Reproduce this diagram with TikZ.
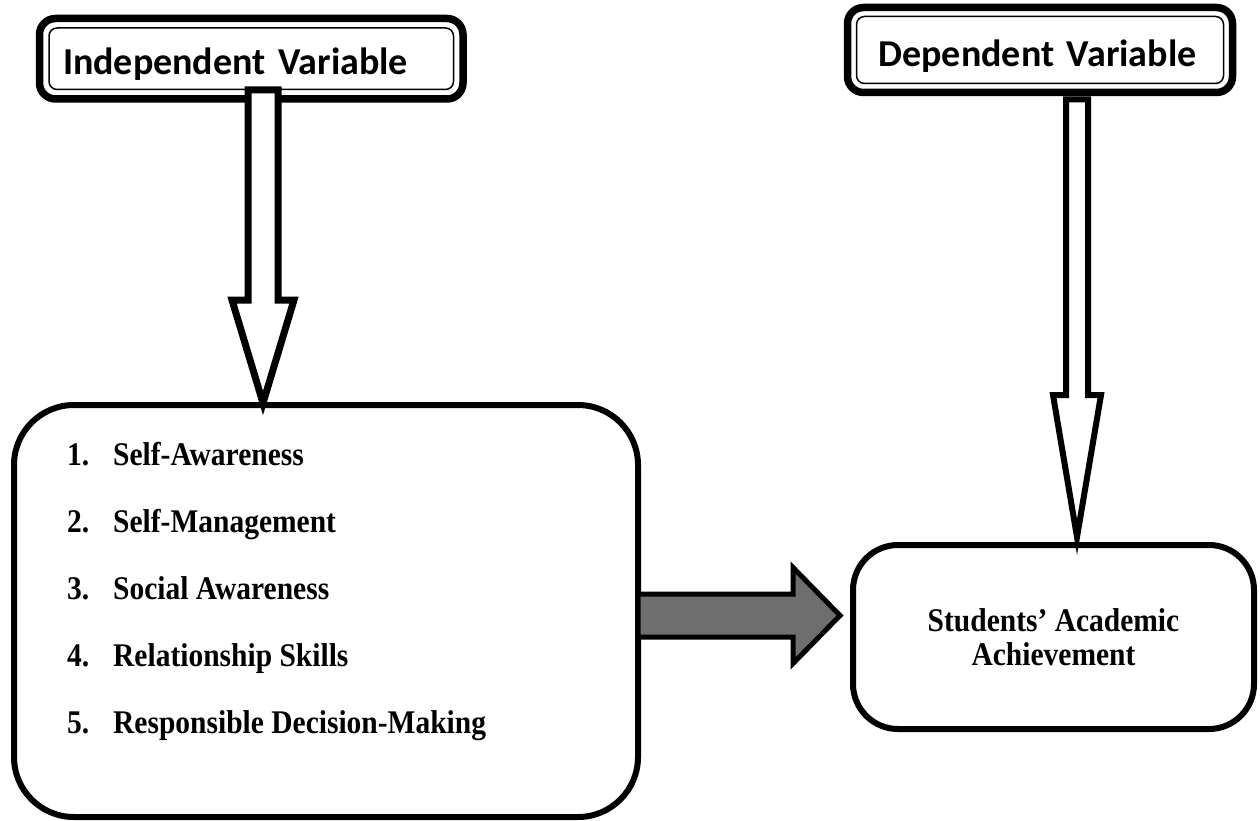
\documentclass[tikz,border=0pt]{standalone}
\usepackage{fontspec}
\usepackage{graphicx}
\newfontfamily\titlefont{Carlito}
\newfontfamily\bodyfont{Liberation Serif}
\usetikzlibrary{calc}
\definecolor{arrowgray}{RGB}{110,110,110}
\newcommand\tallbf[1]{\scalebox{1}[1.12]{#1}}
% #1 style, #2 start, #3 tip, #4 shaft half width, #5 head half width, #6 head length
\newcommand\DownBlock[6]{%
  \draw[#1] ($(#2)+(-#4,0)$) -- ($(#2)+(#4,0)$) -- ($(#3)+(#4,-#6)$) -- ($(#3)+(#5,-#6)$)
    -- (#3) -- ($(#3)+(-#5,-#6)$) -- ($(#3)+(-#4,-#6)$) -- cycle;}
\newcommand\RightBlock[6]{%
  \draw[#1] ($(#2)+(0,-#4)$) -- ($(#3)+(-#6,-#4)$) -- ($(#3)+(-#6,-#5)$) -- (#3)
    -- ($(#3)+(-#6,#5)$) -- ($(#3)+(-#6,#4)$) -- ($(#2)+(0,#4)$) -- cycle;}
\begin{document}
\begin{tikzpicture}[x=1pt,y=-1pt,
  titlebox/.style={draw, line width=7.5pt, rounded corners=16pt, fill=white, outer sep=0pt,
    align=left, text depth=0pt, font=\titlefont\bfseries\fontsize{38}{44}\selectfont},
  innerline/.style={line width=1.5pt, rounded corners=8pt},
  bigbox/.style={draw, line width=6pt, fill=white, outer sep=0pt, inner sep=0pt},
  itemtext/.style={inner sep=0pt, anchor=base west, font=\bodyfont\bfseries\fontsize{29.5}{34}\selectfont},
  hollow/.style={draw=black, fill=white, line join=miter},
  solidarrow/.style={draw=black, fill=arrowgray, line width=5pt, line join=miter}]
\useasboundingbox (0,0) rectangle (1260,821);

% title boxes
\node[titlebox, minimum width=423.5pt, minimum height=80.5pt, text width=376.5pt,
  inner xsep=23.5pt, text height=32.5pt] (iv) at (251.25,58.75) {Independent Variable};
\draw[innerline] ($(iv.south west)+(9.5,-9.5)$) rectangle ($(iv.north east)+(-9.5,9.5)$);
\node[titlebox, minimum width=385pt, minimum height=85pt, text width=323pt,
  inner xsep=31pt, text height=34pt] (dv) at (1040,50) {Dependent Variable};
\draw[innerline] ($(dv.south west)+(9,-9)$) rectangle ($(dv.north east)+(-9,9)$);

% main boxes
\node[bigbox, rounded corners=60pt, minimum width=624pt, minimum height=412pt] (factors) at (326,611) {};
\node[itemtext] (f1) at (67,465) {\tallbf{\makebox[46pt][l]{1.}Self-Awareness}};
\node[itemtext] (f2) at (67,532) {\tallbf{\makebox[46pt][l]{2.}Self-Management}};
\node[itemtext] (f3) at (67,599) {\tallbf{\makebox[46pt][l]{3.}Social Awareness}};
\node[itemtext] (f4) at (67,666) {\tallbf{\makebox[46pt][l]{4.}Relationship Skills}};
\node[itemtext] (f5) at (67,733) {\tallbf{\makebox[46pt][l]{5.}Responsible Decision-Making}};

\node[bigbox, rounded corners=45pt, minimum width=401pt, minimum height=184pt, align=center,
  font=\bodyfont\bfseries\fontsize{29.5}{33.5}\selectfont] (outcome) at (1053.5,637)
  {\tallbf{Students’ Academic}\\\tallbf{Achievement}};

% connector coordinates
\coordinate (ivtop) at ($(iv.south)+(11.75,-9)$);
\coordinate (ivtip) at ($(factors.north)+(-63,-2)$);
\coordinate (dvtop) at ($(dv.south)+(37,7)$);
\coordinate (dvtip) at ($(outcome.north)+(23.5,-8)$);
\coordinate (gstart) at ($(factors.east)+(0,4.5)$);
\coordinate (gtip) at ($(outcome.west)+(-13,-21.5)$);

% block arrows
\DownBlock{hollow, line width=7pt}{ivtop}{ivtip}{15}{31}{103}
\DownBlock{hollow, line width=6pt}{dvtop}{dvtip}{11}{24}{142}
\RightBlock{solidarrow}{gstart}{gtip}{21.5}{48}{47}
\end{tikzpicture}
\end{document}
